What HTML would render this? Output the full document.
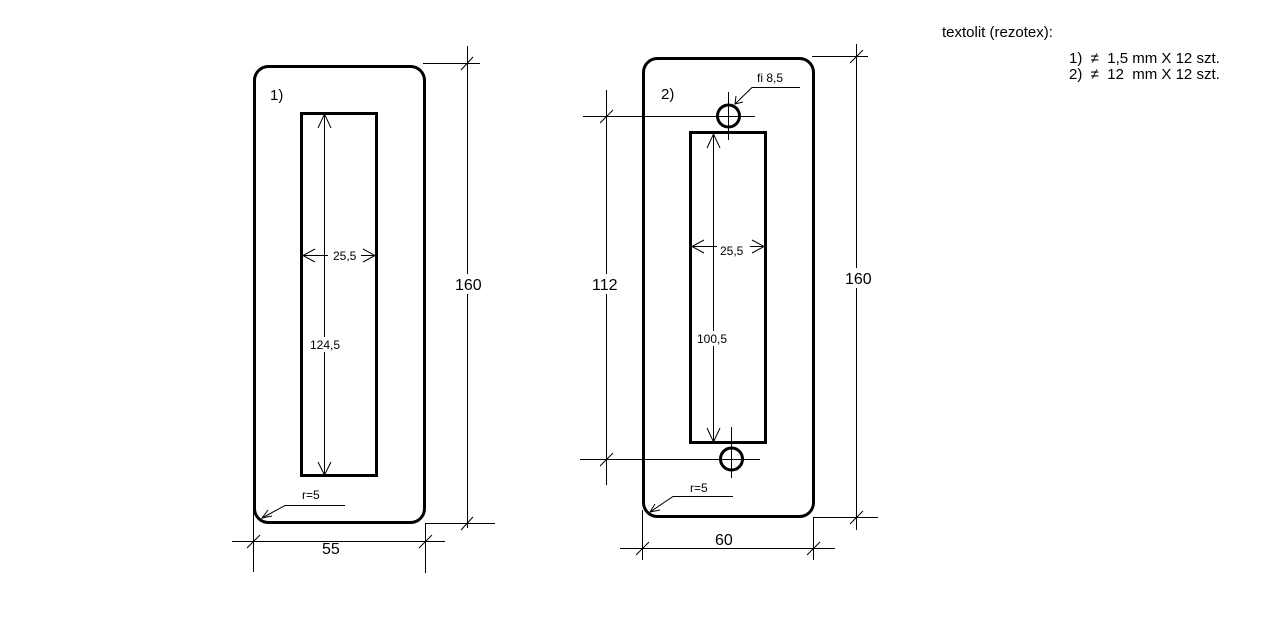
<!DOCTYPE html>
<html><head><meta charset="utf-8"><style>
html,body{margin:0;padding:0;background:#fff;}
svg{display:block;}
text{font-family:"Liberation Sans","DejaVu Sans",sans-serif;fill:#000;white-space:pre;}
</style></head><body>
<svg width="1274" height="643" viewBox="0 0 1274 643" xmlns="http://www.w3.org/2000/svg" xml:space="preserve">
<g fill="none" stroke="#000">
<!-- Part 1 -->
<rect x="254.5" y="66.5" width="170" height="456" rx="14" stroke-width="3"/>
<rect x="301.5" y="113.5" width="75" height="362" stroke-width="3"/>
<g stroke-width="1">
<line x1="324.5" y1="114" x2="324.5" y2="475"/>
<polyline points="318,128 324.5,114 331,128"/>
<polyline points="318,462 324.5,475 331,462"/>
<line x1="303" y1="255.5" x2="328" y2="255.5"/>
<line x1="361" y1="255.5" x2="375" y2="255.5"/>
<polyline points="315,249 303,255.5 315,262"/>
<polyline points="363,249 375,255.5 363,262"/>
<line x1="467.5" y1="46" x2="467.5" y2="528"/>
<line x1="423" y1="63.5" x2="480" y2="63.5"/>
<line x1="425" y1="523.5" x2="495" y2="523.5"/>
<line x1="461" y1="70" x2="473" y2="57"/>
<line x1="461" y1="530" x2="473" y2="517"/>
<line x1="232" y1="541.5" x2="445" y2="541.5"/>
<line x1="253.5" y1="510" x2="253.5" y2="572"/>
<line x1="425.5" y1="523" x2="425.5" y2="573"/>
<line x1="247" y1="548" x2="260" y2="535"/>
<line x1="419" y1="548" x2="432" y2="535"/>
<polyline points="262,518 285,505.5 345,505.5"/>
<polyline points="268,510 262,518 272,516"/>
</g>
<!-- Part 2 -->
<rect x="643.5" y="58.5" width="170" height="458" rx="14" stroke-width="3"/>
<rect x="690.5" y="132.5" width="75" height="310" stroke-width="3"/>
<circle cx="728.5" cy="116" r="11" stroke-width="3"/>
<circle cx="731.5" cy="459" r="11" stroke-width="3"/>
<g stroke-width="1">
<line x1="583" y1="116.5" x2="755" y2="116.5"/>
<line x1="728.5" y1="92" x2="728.5" y2="140"/>
<line x1="580" y1="459.5" x2="760" y2="459.5"/>
<line x1="731.5" y1="427" x2="731.5" y2="478"/>
<line x1="713.5" y1="134" x2="713.5" y2="442"/>
<polyline points="707,148 713.5,134 720,148"/>
<polyline points="707,428 713.5,442 720,428"/>
<line x1="692" y1="246.5" x2="717" y2="246.5"/>
<line x1="750" y1="246.5" x2="764" y2="246.5"/>
<polyline points="704,240 692,246.5 704,253"/>
<polyline points="752,240 764,246.5 752,253"/>
<line x1="606.5" y1="90" x2="606.5" y2="485"/>
<line x1="600" y1="123" x2="613" y2="110"/>
<line x1="600" y1="466" x2="613" y2="453"/>
<line x1="856.5" y1="44" x2="856.5" y2="530"/>
<line x1="812" y1="56.5" x2="868" y2="56.5"/>
<line x1="813" y1="517.5" x2="878" y2="517.5"/>
<line x1="850" y1="63" x2="863" y2="50"/>
<line x1="850" y1="524" x2="863" y2="511"/>
<line x1="620" y1="548.5" x2="835" y2="548.5"/>
<line x1="642.5" y1="510" x2="642.5" y2="560"/>
<line x1="813.5" y1="517" x2="813.5" y2="560"/>
<line x1="636" y1="555" x2="649" y2="542"/>
<line x1="807" y1="555" x2="820" y2="542"/>
<polyline points="735,104 752,87.5 800,87.5"/>
<polyline points="736,96 735,104 743,102"/>
<polyline points="650,512 673,496.5 733,496.5"/>
<polyline points="655,504 650,512 660,510"/>
</g>
</g>
<!-- white gaps behind dimension labels -->
<g fill="#fff">
<rect x="454" y="274" width="28" height="20"/>
<rect x="591" y="274" width="28" height="20"/>
<rect x="844" y="268" width="28" height="20"/>
<rect x="309" y="337" width="32" height="15"/>
<rect x="696" y="331" width="32" height="15"/>
</g>
<text x="270" y="100" font-size="15">1)</text>
<text x="333" y="260" font-size="12">25,5</text>
<text x="310" y="349" font-size="12">124,5</text>
<text x="455" y="290" font-size="16">160</text>
<text x="322" y="554" font-size="16">55</text>
<text x="302" y="499" font-size="12">r=5</text>
<text x="661" y="99" font-size="15">2)</text>
<text x="757" y="82" font-size="12">fi 8,5</text>
<text x="720" y="255" font-size="12">25,5</text>
<text x="697" y="343" font-size="12">100,5</text>
<text x="592" y="290" font-size="16">112</text>
<text x="845" y="284" font-size="16">160</text>
<text x="715" y="545" font-size="16">60</text>
<text x="690" y="492" font-size="12">r=5</text>
<text x="942" y="37" font-size="15">textolit (rezotex):</text>
<text x="1069" y="63" font-size="15">1)  ≠  1,5 mm X 12 szt.</text>
<text x="1069" y="79" font-size="15">2)  ≠  12  mm X 12 szt.</text>
</svg>
</body></html>
